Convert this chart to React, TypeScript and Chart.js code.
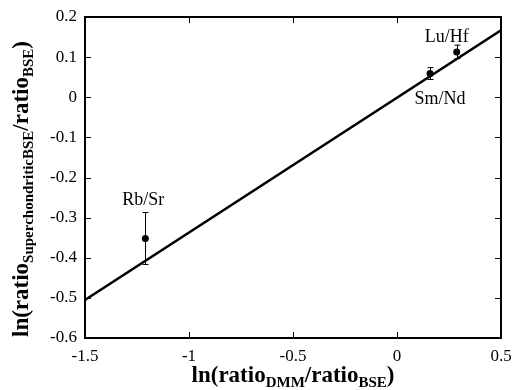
import React, { useEffect, useRef } from "react";
import { Chart, registerables } from "chart.js";

Chart.register(...registerables);

// ---- data ----
const pointLabels = ["Rb/Sr", "Sm/Nd", "Lu/Hf"];
const pointX = [-1.21, 0.159, 0.287];
const pointY = [-0.352, 0.059, 0.113];
const pointErr = [0.066, 0.016, 0.018];

const fitX = [-1.5, 0.5];
const fitY = [-0.505, 0.167];

const xTickValues = [-1.5, -1, -0.5, 0, 0.5];
const yTickValues = [-0.6, -0.5, -0.4, -0.3, -0.2, -0.1, 0, 0.1, 0.2];

const SERIF = '"Liberation Serif", "Times New Roman", serif';

// label offsets (pixels, relative to point) for annotations
const labelOffsets: [number, number][] = [
  [-2, -33],
  [10, 30],
  [-10, -10],
];

function drawRichText(
  ctx: CanvasRenderingContext2D,
  parts: { t: string; sub?: boolean }[],
  cx: number,
  baseline: number,
  mainFont: string,
  subFont: string,
  subShift: number
) {
  let total = 0;
  const widths: number[] = [];
  for (const p of parts) {
    ctx.font = p.sub ? subFont : mainFont;
    const w = ctx.measureText(p.t).width;
    widths.push(w);
    total += w;
  }
  let x = cx - total / 2;
  ctx.textAlign = "left";
  ctx.textBaseline = "alphabetic";
  parts.forEach((p, i) => {
    ctx.font = p.sub ? subFont : mainFont;
    ctx.fillText(p.t, x, baseline + (p.sub ? subShift : 0));
    x += widths[i];
  });
}

const decorPlugin = {
  id: "decor",
  afterDatasetsDraw(chart: any) {
    const ctx: CanvasRenderingContext2D = chart.ctx;
    const xs = chart.scales.x;
    const ys = chart.scales.y;
    const area = chart.chartArea;
    ctx.save();
    ctx.strokeStyle = "#000";
    ctx.fillStyle = "#000";

    // error bars
    ctx.lineWidth = 1;
    for (let i = 0; i < pointX.length; i++) {
      const px = Math.round(xs.getPixelForValue(pointX[i]));
      const top = ys.getPixelForValue(pointY[i] + pointErr[i]);
      const bot = ys.getPixelForValue(pointY[i] - pointErr[i]);
      ctx.beginPath();
      ctx.moveTo(px + 0.5, top);
      ctx.lineTo(px + 0.5, bot);
      ctx.moveTo(px - 2.5, top + 0.5);
      ctx.lineTo(px + 3.5, top + 0.5);
      ctx.moveTo(px - 2.5, bot - 0.5);
      ctx.lineTo(px + 3.5, bot - 0.5);
      ctx.stroke();
    }

    // annotations
    ctx.font = `18px ${SERIF}`;
    ctx.textAlign = "center";
    ctx.textBaseline = "alphabetic";
    for (let i = 0; i < pointX.length; i++) {
      const px = xs.getPixelForValue(pointX[i]);
      const py = ys.getPixelForValue(pointY[i]);
      ctx.fillText(pointLabels[i], px + labelOffsets[i][0], py + labelOffsets[i][1]);
    }

    // frame
    ctx.lineWidth = 2;
    ctx.strokeRect(area.left, area.top, area.right - area.left, area.bottom - area.top);

    // inward ticks on all sides
    const tl = 6;
    ctx.lineWidth = 1;
    ctx.beginPath();
    for (const v of xTickValues) {
      const x = Math.round(xs.getPixelForValue(v)) + 0.5;
      ctx.moveTo(x, area.bottom);
      ctx.lineTo(x, area.bottom - tl);
      ctx.moveTo(x, area.top);
      ctx.lineTo(x, area.top + tl);
    }
    for (const v of yTickValues) {
      const y = Math.round(ys.getPixelForValue(v)) + 0.5;
      ctx.moveTo(area.left, y);
      ctx.lineTo(area.left + tl, y);
      ctx.moveTo(area.right, y);
      ctx.lineTo(area.right - tl, y);
    }
    ctx.stroke();

    // axis titles
    const mainFont = `bold 23px ${SERIF}`;
    const subFont = `bold 15px ${SERIF}`;
    drawRichText(
      ctx,
      [
        { t: "ln(ratio" },
        { t: "DMM", sub: true },
        { t: "/ratio" },
        { t: "BSE", sub: true },
        { t: ")" },
      ],
      (area.left + area.right) / 2,
      382,
      mainFont,
      subFont,
      5
    );
    ctx.save();
    ctx.translate(28, 189);
    ctx.rotate(-Math.PI / 2);
    drawRichText(
      ctx,
      [
        { t: "ln(ratio" },
        { t: "SuperchondriticBSE", sub: true },
        { t: "/ratio" },
        { t: "BSE", sub: true },
        { t: ")" },
      ],
      0,
      0,
      mainFont,
      subFont,
      5
    );
    ctx.restore();
    ctx.restore();
  },
};

export default function App() {
  const ref = useRef<HTMLCanvasElement | null>(null);
  useEffect(() => {
    if (!ref.current) return;
    const chart = new Chart(ref.current, {
      type: "scatter",
      data: {
        datasets: [
          {
            type: "line",
            data: fitX.map((x, i) => ({ x, y: fitY[i] })),
            borderColor: "#000",
            borderWidth: 2.5,
            pointRadius: 0,
            showLine: true,
            fill: false,
          } as any,
          {
            type: "scatter",
            data: pointX.map((x, i) => ({ x, y: pointY[i] })),
            backgroundColor: "#000",
            borderColor: "#000",
            pointRadius: 3.5,
            borderWidth: 0,
          },
        ],
      },
      options: {
        animation: false,
        responsive: false,
        layout: { padding: { top: 17, right: 11, left: 0, bottom: 0 } },
        plugins: { legend: { display: false }, tooltip: { enabled: false } },
        scales: {
          x: {
            type: "linear",
            min: -1.5,
            max: 0.5,
            afterBuildTicks: (s: any) => {
              s.ticks = xTickValues.map((v) => ({ value: v }));
            },
            afterFit: (s: any) => {
              s.height = 52;
              s.paddingLeft = 0;
              s.paddingRight = 0;
            },
            ticks: {
              color: "#000",
              font: { family: SERIF, size: 17 },
              padding: 8,
              maxRotation: 0,
              callback: (v: any) => String(v),
            },
            grid: { display: false, drawTicks: false },
            border: { display: false },
          },
          y: {
            type: "linear",
            min: -0.6,
            max: 0.2,
            afterBuildTicks: (s: any) => {
              s.ticks = yTickValues.map((v) => ({ value: v }));
            },
            afterFit: (s: any) => {
              s.width = 85;
              s.paddingTop = 0;
              s.paddingBottom = 0;
            },
            ticks: {
              color: "#000",
              font: { family: SERIF, size: 17 },
              padding: 8,
              callback: (v: any) => String(Math.round(v * 10) / 10),
            },
            grid: { display: false, drawTicks: false },
            border: { display: false },
          },
        },
      },
      plugins: [decorPlugin],
    });
    return () => chart.destroy();
  }, []);
  return (
    <div style={{ position: "absolute", left: 0, top: 0, width: 512, height: 390, background: "#fff" }}>
      <canvas ref={ref} width={512} height={390} />
    </div>
  );
}
